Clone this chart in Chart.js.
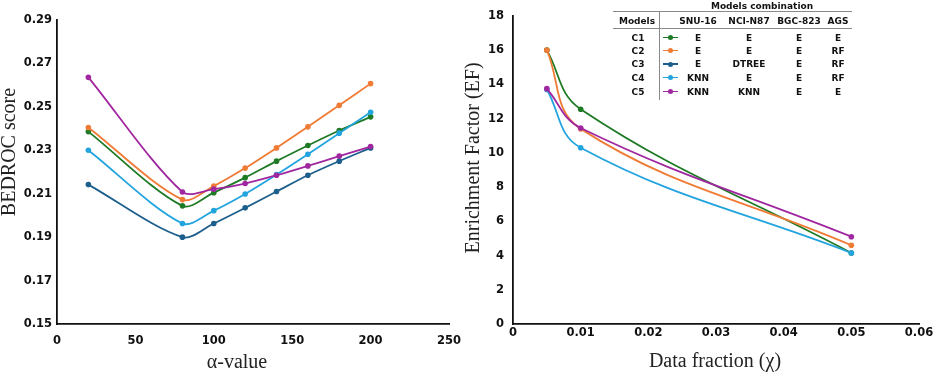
<!DOCTYPE html>
<html>
<head>
<meta charset="utf-8">
<script src="https://cdn.jsdelivr.net/npm/chart.js@4.4.0/dist/chart.umd.min.js"></script>
<style>
  html, body { margin: 0; padding: 0; background: #fff; }
  #wrap { position: relative; width: 941px; height: 377px; overflow: hidden; }
  #wrap canvas { position: absolute; left: 0; top: 0; }
  #table { position: absolute; left: 0; top: 0; font-family: "DejaVu Sans", Verdana, sans-serif; font-weight: bold; font-size: 9px; color: #111; }
  .t { position: absolute; transform: translate(-50%, -50%); white-space: nowrap; line-height: 1; }
  .rule { position: absolute; background: #8a8a8a; }
  .sample { position: absolute; height: 1.6px; width: 15px; }
  .dot { position: absolute; width: 5px; height: 5px; border-radius: 50%; }
</style>
</head>
<body>
<div id="wrap">
  <canvas id="bedrocChart" width="941" height="377"></canvas>
  <canvas id="efChart" width="941" height="377"></canvas>
  <div id="table"></div>
</div>
<script>
// left panel: BEDROC score vs alpha
const alphaValues = [20, 80, 100, 120, 140, 160, 180, 200];
const bedrocC1 = [0.2386, 0.2044, 0.2105, 0.2174, 0.2250, 0.2322, 0.2391, 0.2454];
const bedrocC2 = [0.2405, 0.2073, 0.2135, 0.2218, 0.2311, 0.2408, 0.2507, 0.2607];
const bedrocC3 = [0.2142, 0.1900, 0.1963, 0.2035, 0.2110, 0.2185, 0.2250, 0.2311];
const bedrocC4 = [0.2300, 0.1963, 0.2022, 0.2099, 0.2188, 0.2282, 0.2379, 0.2475];
const bedrocC5 = [0.2636, 0.2108, 0.2121, 0.2147, 0.2185, 0.2228, 0.2273, 0.2317];

// right panel: enrichment factor vs data fraction
const fractionValues = [0.005, 0.01, 0.05];
const efC1 = [16.0, 12.55, 4.15];
const efC2 = [16.0, 11.4, 4.6];
const efC4 = [13.7, 10.3, 4.15];
const efC5 = [13.75, 11.45, 5.1];

// legend table
const modelNames = ['C1', 'C2', 'C3', 'C4', 'C5'];
const cellLines = ['SNU-16', 'NCI-N87', 'BGC-823', 'AGS'];
const modelCells = [
    ['E', 'E', 'E', 'E'],
    ['E', 'E', 'E', 'RF'],
    ['E', 'DTREE', 'E', 'RF'],
    ['KNN', 'E', 'E', 'RF'],
    ['KNN', 'KNN', 'E', 'E']
];

const colors = {
    C1: '#1f7a25',
    C2: '#f07b35',
    C3: '#1d5f8c',
    C4: '#22a4de',
    C5: '#a0279f'
};

const tickFont = { family: '"DejaVu Sans", Verdana, sans-serif', size: 11.5, weight: 'bold' };

function pairs(xs, ys) {
    return xs.map((x, i) => ({ x: x, y: ys[i] }));
}

function series(name, xs, ys, tension) {
    return {
        label: name,
        data: pairs(xs, ys),
        borderColor: colors[name],
        backgroundColor: colors[name],
        borderWidth: 1.8,
        pointRadius: 2.8,
        pointBorderWidth: 0,
        tension: tension,
        fill: false
    };
}

// draws the serif axis titles, slightly off-centre like the original figure
const axisTitles = {
    id: 'axisTitles',
    afterDraw(chart, args, opts) {
        const { ctx, chartArea } = chart;
        ctx.save();
        ctx.font = '20px "Liberation Serif", "Times New Roman", serif';
        ctx.fillStyle = '#222';
        ctx.textAlign = 'center';
        ctx.textBaseline = 'middle';
        ctx.fillText(opts.x.text, (chartArea.left + chartArea.right) / 2 + opts.x.dx, opts.x.y);
        ctx.translate(opts.y.x, (chartArea.top + chartArea.bottom) / 2 + opts.y.dy);
        ctx.rotate(-Math.PI / 2);
        ctx.fillText(opts.y.text, 0, 0);
        ctx.restore();
    }
};

function axis(min, max, step, pad, size, fmt, horizontal) {
    return {
        type: 'linear',
        min: min,
        max: max,
        ticks: {
            stepSize: step,
            padding: pad,
            font: tickFont,
            color: '#111',
            maxRotation: 0,
            autoSkip: false,
            callback: fmt
        },
        grid: { display: false, drawTicks: false },
        border: { color: '#111', width: 1.8 },
        afterFit(scale) {
            if (horizontal) scale.height = size;
            else scale.width = size;
        }
    };
}

new Chart(document.getElementById('bedrocChart'), {
    type: 'line',
    data: {
        datasets: [
            series('C5', alphaValues, bedrocC5, 0.3),
            series('C4', alphaValues, bedrocC4, 0.3),
            series('C2', alphaValues, bedrocC2, 0.3),
            series('C1', alphaValues, bedrocC1, 0.3),
            series('C3', alphaValues, bedrocC3, 0.3)
        ]
    },
    options: {
        responsive: false,
        animation: false,
        layout: { padding: { left: 0, top: 20, right: 941 - 449, bottom: 0 } },
        scales: {
            x: axis(0, 250, 50, 10, 53, v => String(v), true),
            y: axis(0.15, 0.29, 0.02, 5, 57, v => v.toFixed(2), false)
        },
        plugins: {
            legend: { display: false },
            tooltip: { enabled: false },
            axisTitles: {
                x: { text: 'α-value', dx: -16, y: 363 },
                y: { text: 'BEDROC score', x: 10, dy: -20 }
            }
        }
    },
    plugins: [axisTitles]
});

new Chart(document.getElementById('efChart'), {
    type: 'line',
    data: {
        datasets: [
            series('C5', fractionValues, efC5, 0.4),
            series('C4', fractionValues, efC4, 0.4),
            series('C2', fractionValues, efC2, 0.4),
            series('C1', fractionValues, efC1, 0.4)
        ]
    },
    options: {
        responsive: false,
        animation: false,
        layout: { padding: { left: 459, top: 10.7, right: 941 - 919, bottom: 0 } },
        scales: {
            x: axis(0, 0.06, 0.01, 2, 53, v => (v === 0 ? '0' : v.toFixed(2)), true),
            y: axis(0, 18, 2, 9, 54, v => String(v), false)
        },
        plugins: {
            legend: { display: false },
            tooltip: { enabled: false },
            axisTitles: {
                x: { text: 'Data fraction (χ)', dx: -1, y: 362 },
                y: { text: 'Enrichment Factor (EF)', x: 474, dy: -12 }
            }
        }
    },
    plugins: [axisTitles]
});

// legend table overlay
const table = document.getElementById('table');
function addText(txt, x, y) {
    const el = document.createElement('div');
    el.className = 't';
    el.textContent = txt;
    el.style.left = x + 'px';
    el.style.top = y + 'px';
    table.appendChild(el);
}
function addRule(x, y, w, h) {
    const el = document.createElement('div');
    el.className = 'rule';
    el.style.left = x + 'px';
    el.style.top = y + 'px';
    el.style.width = w + 'px';
    el.style.height = h + 'px';
    table.appendChild(el);
}

const colX = [698, 749, 799, 838];
const rowY = [37.7, 50.5, 64, 77.7, 91.7];

addText('Models combination', 762, 6);
addRule(613, 11, 239, 1);
addRule(613, 28, 239, 1);
addRule(659, 11, 1, 89);
addText('Models', 637, 20.5);
cellLines.forEach((name, j) => addText(name, colX[j], 20.5));

modelNames.forEach((name, i) => {
    addText(name, 638, rowY[i]);
    const line = document.createElement('div');
    line.className = 'sample';
    line.style.left = '663px';
    line.style.top = (rowY[i] - 0.8) + 'px';
    line.style.background = colors[name];
    table.appendChild(line);
    const dot = document.createElement('div');
    dot.className = 'dot';
    dot.style.left = '668px';
    dot.style.top = (rowY[i] - 2.5) + 'px';
    dot.style.background = colors[name];
    table.appendChild(dot);
    modelCells[i].forEach((cell, j) => addText(cell, colX[j], rowY[i]));
});
</script>
</body>
</html>
